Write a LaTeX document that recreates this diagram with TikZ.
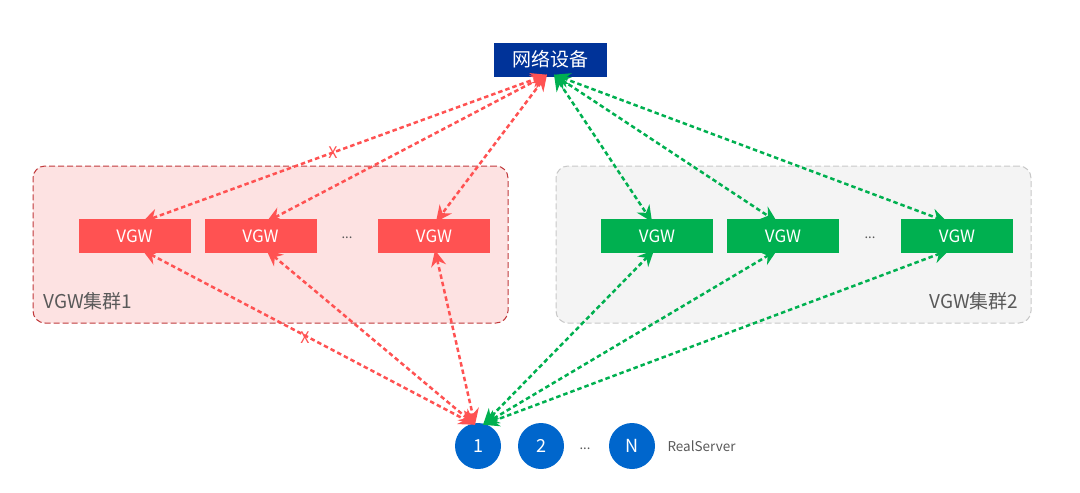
\documentclass[tikz,border=0pt]{standalone}
\usepackage{fontspec}
\setmainfont{Noto Sans CJK SC}
\usetikzlibrary{arrows.meta}

\definecolor{netblue}{HTML}{003399}
\definecolor{vgwred}{HTML}{FF5252}
\definecolor{vgwgreen}{HTML}{00B050}
\definecolor{rsblue}{HTML}{0066CC}
\definecolor{pinkbg}{HTML}{FDE2E2}
\definecolor{pinkline}{HTML}{C0393B}
\definecolor{greybg}{HTML}{F4F4F4}
\definecolor{greyline}{HTML}{C8C8C8}
\definecolor{labelgrey}{HTML}{595959}

\begin{document}
\begin{tikzpicture}[x=1pt,y=-1pt,
    vgw/.style={minimum width=112pt, minimum height=34pt, inner sep=0pt, text=white, font=\fontsize{17}{18}\selectfont},
    cluster/.style={rounded corners=12pt, dash pattern=on 6pt off 3pt, line width=1pt, minimum width=475pt, minimum height=157pt, inner sep=0pt},
    link/.style={{Stealth[length=16pt,width=15pt]}-{Stealth[length=16pt,width=15pt]}, line width=2.5pt, dash pattern=on 4.5pt off 3pt},
    xmark/.style={font=\fontsize{16}{16}\selectfont, inner sep=0pt, text=vgwred},
    rs/.style={circle, fill=rsblue, minimum size=46pt, inner sep=0pt, text=white, font=\fontsize{18}{20}\selectfont},
    dots/.style={text=labelgrey, font=\fontsize{13}{14}\selectfont}
]
    \useasboundingbox (0,0) rectangle (1080,493);

    % Draw the two clusters
    \node[cluster, draw=pinkline, fill=pinkbg] (c1) at (270.5,244.5) {};
    \node[cluster, draw=greyline, fill=greybg] (c2) at (793.5,244.5) {};
    \node[anchor=west, text=labelgrey, font=\fontsize{19}{20}\selectfont] (c1lbl) at (40,301) {VGW集群1};
    \node[anchor=east, text=labelgrey, font=\fontsize{19}{20}\selectfont] (c2lbl) at (1022,301) {VGW集群2};

    % Draw the network device
    \node[fill=netblue, minimum width=113pt, minimum height=34pt, inner sep=0pt, text=white, font=\fontsize{19}{20}\selectfont] (net) at (550,59.5) {网络设备};

    % Draw the VGW nodes
    \foreach \x/\n in {134.5/r1, 260.5/r2, 434/r3} {
        \node[vgw, fill=vgwred] (\n) at (\x,236) {VGW};
    }
    \foreach \x/\n in {657/g1, 783/g2, 957/g3} {
        \node[vgw, fill=vgwgreen] (\n) at (\x,236) {VGW};
    }
    \node[dots] (rdots) at (347,238) {...};
    \node[dots] (gdots) at (870,238) {...};

    % Draw the real servers
    \node[rs] (s1) at (478,446) {1};
    \node[rs] (s2) at (541,446) {2};
    \node[rs] (sn) at (632,446) {N};
    \node[dots] (sdots) at (585,449) {...};
    \node[anchor=west, text=labelgrey, font=\fontsize{13.5}{14}\selectfont] (rslbl) at (664,446) {RealServer};

    % Draw links to the network device
    \draw[link, vgwred] ([xshift=-3pt,yshift=2pt]net.south) -- ([xshift=8pt,yshift=-3pt]r1.north);
    \draw[link, vgwred] ([xshift=-3pt,yshift=2pt]net.south) -- ([xshift=6pt,yshift=-3pt]r2.north);
    \draw[link, vgwred] ([xshift=-3pt,yshift=2pt]net.south) -- ([xshift=2pt,yshift=-3pt]r3.north);
    \draw[link, vgwgreen] ([xshift=4pt,yshift=2pt]net.south) -- ([xshift=-5pt,yshift=-3pt]g1.north);
    \draw[link, vgwgreen] ([xshift=4pt,yshift=2pt]net.south) -- ([xshift=-6pt,yshift=-3pt]g2.north);
    \draw[link, vgwgreen] ([xshift=4pt,yshift=2pt]net.south) -- ([xshift=-10pt,yshift=-3pt]g3.north);

    % Draw links to the real servers
    \draw[link, vgwred] ([xshift=8pt,yshift=3pt]r1.south) -- ([xshift=-3pt,yshift=-2pt]s1.north);
    \draw[link, vgwred] ([xshift=6pt,yshift=3pt]r2.south) -- ([xshift=-3pt,yshift=-2pt]s1.north);
    \draw[link, vgwred] ([xshift=1pt,yshift=3pt]r3.south) -- ([xshift=-3pt,yshift=-2pt]s1.north);
    \draw[link, vgwgreen] ([xshift=-3pt,yshift=3pt]g1.south) -- ([xshift=5pt,yshift=-2pt]s1.north);
    \draw[link, vgwgreen] ([xshift=-6pt,yshift=3pt]g2.south) -- ([xshift=5pt,yshift=-2pt]s1.north);
    \draw[link, vgwgreen] ([xshift=-8pt,yshift=3pt]g3.south) -- ([xshift=5pt,yshift=-2pt]s1.north);

    % Mark the broken links
    \node[xmark] (x1) at (333,153) {X};
    \node[xmark] (x2) at (305,338) {X};
\end{tikzpicture}
\end{document}
